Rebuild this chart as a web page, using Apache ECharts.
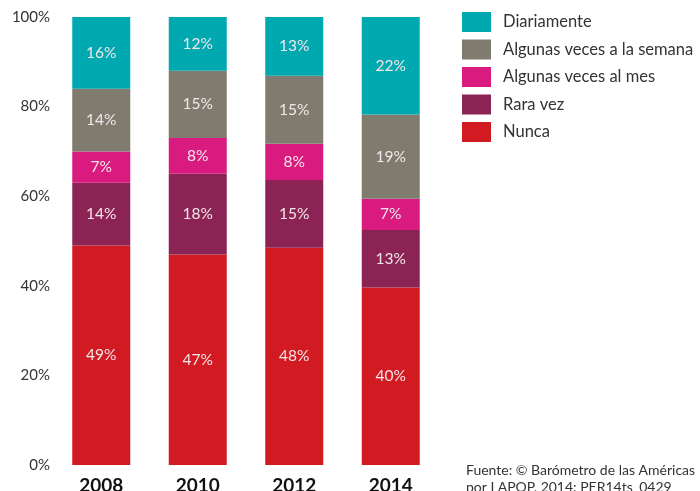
<!DOCTYPE html>
<html lang="es">
<head>
  <meta charset="UTF-8">
  <title>Frecuencia</title>
  <script src="https://cdn.jsdelivr.net/npm/echarts@6/dist/echarts.min.js"></script>
  <style>
    html, body { margin: 0; padding: 0; background: #fff; }
    #wrap { width: 700px; height: 491px; }
  </style>
</head>
<body>
<div id="wrap"></div>
<script>
  const years = ["2008", "2010", "2012", "2014"]
  const nunca = [49, 47, 48, 40]
  const raraVez = [14, 18, 15, 13]
  const alMes = [7, 8, 8, 7]
  const aLaSemana = [14, 15, 15, 19]
  const diariamente = [16, 12, 13, 22]
  const yTicks = [0, 20, 40, 60, 80, 100]

  const chart = echarts.init(document.querySelector("#wrap"))
  const font = "Lato, 'DejaVu Sans', sans-serif"

  // totals per year, bars are scaled to 100% like the original
  const totals = years.map((y, i) => nunca[i] + raraVez[i] + alMes[i] + aLaSemana[i] + diariamente[i])

  const groups = [
    { name: "Nunca", data: nunca, color: "#d21a22" },
    { name: "Rara vez", data: raraVez, color: "#8b2454" },
    { name: "Algunas veces al mes", data: alMes, color: "#d91b80" },
    { name: "Algunas veces a la semana", data: aLaSemana, color: "#807b6f" },
    { name: "Diariamente", data: diariamente, color: "#00a9b0" }
  ]

  const series = groups.map(g => ({
    name: g.name,
    type: "bar",
    stack: "total",
    barWidth: 58,
    itemStyle: { color: g.color },
    data: g.data.map((v, i) => ({ value: v * 100 / totals[i], raw: v })),
    label: {
      show: true,
      position: "inside",
      color: "#f3e6e8",
      fontFamily: font,
      fontSize: 15.5,
      formatter: p => p.data.raw + "%"
    }
  }))

  const ops = {
    animation: false,
    grid: { left: 53, right: 261, top: 17, bottom: 26, outerBoundsMode: "none", containLabel: false },
    legend: {
      data: ["Diariamente", "Algunas veces a la semana", "Algunas veces al mes", "Rara vez", "Nunca"],
      orient: "vertical",
      left: 462,
      top: 12,
      padding: 0,
      itemWidth: 29,
      itemHeight: 20,
      itemGap: 7.5,
      icon: "rect",
      textStyle: { fontFamily: font, fontSize: 16.5, color: "#333", padding: [0, 0, 0, 7] }
    },
    xAxis: {
      type: "category",
      data: years,
      axisLine: { show: false },
      axisTick: { show: false },
      axisLabel: { fontFamily: font, fontSize: 19, fontWeight: "bold", color: "#111", margin: 11 }
    },
    yAxis: {
      type: "value",
      min: 0,
      max: 100,
      interval: 20,
      splitLine: { show: false },
      axisLabel: {
        fontFamily: font,
        fontSize: 15,
        color: "#333",
        margin: 3,
        formatter: v => yTicks.includes(v) ? v + "%" : ""
      }
    },
    graphic: [
      {
        type: "text",
        left: 466,
        top: 462,
        style: {
          text: "Fuente: © Barómetro de las Américas\npor LAPOP. 2014: PER14ts_0429",
          fontFamily: font,
          fontSize: 14,
          lineHeight: 17,
          fill: "#333"
        }
      }
    ],
    series: series
  }

  chart.setOption(ops)
</script>
</body>
</html>
